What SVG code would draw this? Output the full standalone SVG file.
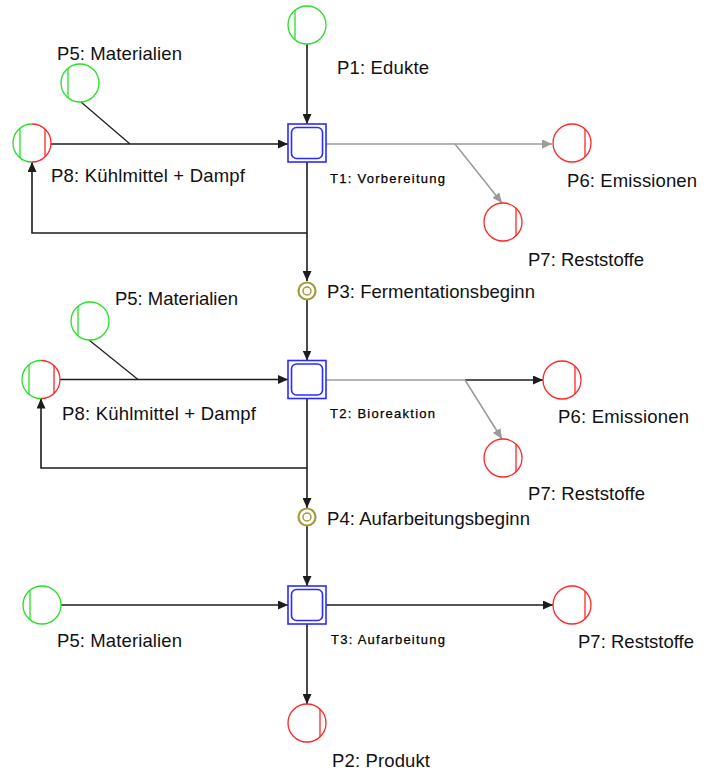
<svg xmlns="http://www.w3.org/2000/svg" xmlns:xlink="http://www.w3.org/1999/xlink" width="709" height="774" viewBox="0 0 709 774">
  <style>
    .pg { fill: none; stroke: #27e027; stroke-width: 1.3; }
    .pr { fill: none; stroke: #ff2626; stroke-width: 1.3; }
    .tb { fill: none; stroke: #2b2bff; stroke-width: 1.6; }
    .cd { fill: none; stroke: #a39b3c; }
    .c  { fill: none; stroke: #1c1c1c; stroke-width: 1.6; }
    .cg { fill: none; stroke: #9a9a9a; stroke-width: 1.5; }
    .ct { fill: none; stroke: #1c1c1c; stroke-width: 1.2; }
    .lbl { font-family: "Liberation Sans", Arial, sans-serif; font-size: 18.5px; fill: #111; }
    .tl  { font-family: "Liberation Sans", Arial, sans-serif; font-size: 13px; fill: #000; stroke: #000; stroke-width: 0.25; }
  </style>
  <defs>
    <marker id="ah" viewBox="0 0 10 9" refX="10" refY="4.5" markerWidth="10" markerHeight="9" markerUnits="userSpaceOnUse" orient="auto">
      <path d="M0,0 L10,4.5 L0,9 z" fill="#1c1c1c"/>
    </marker>
    <marker id="ahg" viewBox="0 0 10 9" refX="10" refY="4.5" markerWidth="10" markerHeight="9" markerUnits="userSpaceOnUse" orient="auto">
      <path d="M0,0 L10,4.5 L0,9 z" fill="#9a9a9a"/>
    </marker>
    <!-- input place: green ring with left stripe -->
    <g id="src">
      <circle r="19" class="pg"/>
      <line x1="-12" y1="-14.7" x2="-12" y2="14.7" class="pg"/>
    </g>
    <!-- output place: red ring with right stripe -->
    <g id="sink">
      <circle r="19" class="pr"/>
      <line x1="13" y1="-13.9" x2="13" y2="13.9" class="pr"/>
    </g>
    <!-- recycled place: half green, half red -->
    <g id="mix">
      <path d="M0,-19 A19,19 0 0 0 0,19" class="pg"/>
      <path d="M0,-19 A19,19 0 0 1 0,19" class="pr"/>
      <line x1="-12" y1="-14.7" x2="-12" y2="14.7" class="pg"/>
      <line x1="13" y1="-13.9" x2="13" y2="13.9" class="pr"/>
    </g>
    <!-- transition box -->
    <g id="trans">
      <rect x="-19" y="-19" width="38" height="38" class="tb"/>
      <rect x="-15.5" y="-15.5" width="31" height="31" rx="5" class="tb" stroke-width="1.3"/>
    </g>
    <!-- condition place -->
    <g id="cond">
      <circle r="8.5" class="cd" stroke-width="2.2"/>
      <circle r="4" class="cd" stroke-width="1.5"/>
    </g>
  </defs>

  <rect width="709" height="774" fill="#ffffff"/>

  <g id="connectors">
    <!-- stage 1 -->
    <path d="M307,44 V124" class="c" marker-end="url(#ah)"/>
    <path d="M51,144 H288" class="c" marker-end="url(#ah)"/>
    <path d="M81,102 L130,144" class="ct"/>
    <path d="M307,162 V281" class="c" marker-end="url(#ah)"/>
    <path d="M307,233 H32 V162" class="c" marker-end="url(#ah)"/>
    <path d="M326,144 H552" class="cg" marker-end="url(#ahg)"/>
    <path d="M455,144 L502,203" class="cg" marker-end="url(#ahg)"/>
    <!-- stage 2 -->
    <path d="M307,300 V360.5" class="c" marker-end="url(#ah)"/>
    <path d="M60,379.5 H288" class="c" marker-end="url(#ah)"/>
    <path d="M89,340 L138,379.5" class="ct"/>
    <path d="M307,398.5 V508" class="c" marker-end="url(#ah)"/>
    <path d="M307,468 H41 V398.5" class="c" marker-end="url(#ah)"/>
    <path d="M326,380 H465" class="cg"/>
    <path d="M465,380 H543" class="c" marker-end="url(#ah)"/>
    <path d="M465,380 L502,439" class="cg" marker-end="url(#ahg)"/>
    <!-- stage 3 -->
    <path d="M307,526 V586" class="c" marker-end="url(#ah)"/>
    <path d="M61,605 H288" class="c" marker-end="url(#ah)"/>
    <path d="M326,605 H553" class="c" marker-end="url(#ah)"/>
    <path d="M307,624 V704" class="c" marker-end="url(#ah)"/>
  </g>

  <g id="P1">
    <use xlink:href="#src" transform="translate(307,25)"/>
    <text class="lbl" x="337" y="74" textLength="92" lengthAdjust="spacing">P1: Edukte</text>
  </g>
  <g id="P5-1">
    <use xlink:href="#src" transform="translate(80,83)"/>
    <text class="lbl" x="57" y="60" textLength="125" lengthAdjust="spacing">P5: Materialien</text>
  </g>
  <g id="P8-1">
    <use xlink:href="#mix" transform="translate(32,143)"/>
    <text class="lbl" x="51" y="182" textLength="194" lengthAdjust="spacing">P8: Kühlmittel + Dampf</text>
  </g>
  <g id="T1">
    <use xlink:href="#trans" transform="translate(307,143)"/>
    <text class="tl" x="330" y="183" textLength="115" lengthAdjust="spacing">T1: Vorbereitung</text>
  </g>
  <g id="P6-1">
    <use xlink:href="#sink" transform="translate(572,143)"/>
    <text class="lbl" x="567" y="187" textLength="130" lengthAdjust="spacing">P6: Emissionen</text>
  </g>
  <g id="P7-1">
    <use xlink:href="#sink" transform="translate(503,222)"/>
    <text class="lbl" x="528" y="266" textLength="116" lengthAdjust="spacing">P7: Reststoffe</text>
  </g>
  <g id="P3">
    <use xlink:href="#cond" transform="translate(307,291)"/>
    <text class="lbl" x="327" y="297.5" textLength="208" lengthAdjust="spacing">P3: Fermentationsbeginn</text>
  </g>

  <g id="P5-2">
    <use xlink:href="#src" transform="translate(90,321)"/>
    <text class="lbl" x="115" y="305" textLength="123" lengthAdjust="spacing">P5: Materialien</text>
  </g>
  <g id="P8-2">
    <use xlink:href="#mix" transform="translate(41,379.5)"/>
    <text class="lbl" x="62" y="419.5" textLength="194" lengthAdjust="spacing">P8: Kühlmittel + Dampf</text>
  </g>
  <g id="T2">
    <use xlink:href="#trans" transform="translate(307,379.5)"/>
    <text class="tl" x="330" y="417.5" textLength="105" lengthAdjust="spacing">T2: Bioreaktion</text>
  </g>
  <g id="P6-2">
    <use xlink:href="#sink" transform="translate(562,380)"/>
    <text class="lbl" x="558" y="422.5" textLength="131" lengthAdjust="spacing">P6: Emissionen</text>
  </g>
  <g id="P7-2">
    <use xlink:href="#sink" transform="translate(503,458)"/>
    <text class="lbl" x="528" y="500" textLength="117" lengthAdjust="spacing">P7: Reststoffe</text>
  </g>
  <g id="P4">
    <use xlink:href="#cond" transform="translate(307,517)"/>
    <text class="lbl" x="327" y="525" textLength="203" lengthAdjust="spacing">P4: Aufarbeitungsbeginn</text>
  </g>

  <g id="P5-3">
    <use xlink:href="#src" transform="translate(42,605)"/>
    <text class="lbl" x="57" y="646.5" textLength="125" lengthAdjust="spacing">P5: Materialien</text>
  </g>
  <g id="T3">
    <use xlink:href="#trans" transform="translate(307,605)"/>
    <text class="tl" x="331" y="643.5" textLength="114" lengthAdjust="spacing">T3: Aufarbeitung</text>
  </g>
  <g id="P7-3">
    <use xlink:href="#sink" transform="translate(572,605)"/>
    <text class="lbl" x="578" y="647.5" textLength="116" lengthAdjust="spacing">P7: Reststoffe</text>
  </g>
  <g id="P2">
    <use xlink:href="#sink" transform="translate(307,723)"/>
    <text class="lbl" x="332" y="766.5" textLength="98" lengthAdjust="spacing">P2: Produkt</text>
  </g>
</svg>
